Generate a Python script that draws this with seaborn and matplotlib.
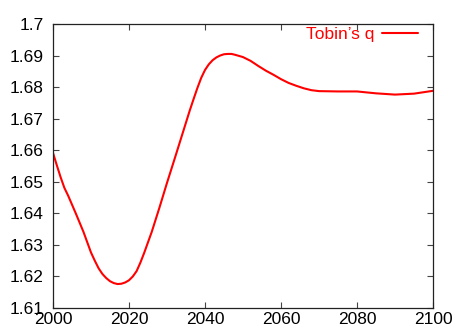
import matplotlib
matplotlib.use("Agg")
import matplotlib.pyplot as plt
import seaborn as sns
import pandas as pd

# Tobin's q path, 2000-2100
years = [2000, 2001, 2002, 2003, 2004, 2006, 2008, 2010, 2011, 2012,
         2013, 2014, 2015, 2016, 2017, 2018, 2019, 2020, 2021, 2022,
         2023, 2024, 2026, 2028, 2030, 2032, 2034, 2036, 2037, 2038,
         2039, 2040, 2041, 2042, 2043, 2044, 2045, 2046, 2047, 2048,
         2050, 2052, 2054, 2056, 2058, 2060, 2062, 2064, 2066, 2068,
         2070, 2075, 2080, 2085, 2090, 2095, 2100]
tobins_q = [1.6592, 1.6553, 1.6515, 1.6481, 1.6456, 1.6400, 1.6342, 1.6276, 1.6250, 1.6226,
            1.6208, 1.6195, 1.6185, 1.6179, 1.6176, 1.6177, 1.6181, 1.6188, 1.6200, 1.6217,
            1.6244, 1.6275, 1.6342, 1.6418, 1.6497, 1.6573, 1.6650, 1.6727, 1.6763, 1.6798,
            1.6830, 1.6855, 1.6873, 1.6886, 1.6895, 1.6901, 1.6905, 1.6906, 1.6906, 1.6903,
            1.6896, 1.6884, 1.6868, 1.6853, 1.6840, 1.6826, 1.6814, 1.6805, 1.6797, 1.6791,
            1.6788, 1.6787, 1.6787, 1.6781, 1.6777, 1.6780, 1.6789]
series_name = "Tobin\u2019s q"

x_ticks = [2000, 2020, 2040, 2060, 2080, 2100]
x_tick_labels = ["2000", "2020", "2040", "2060", "2080", "2100"]
y_ticks = [1.61, 1.62, 1.63, 1.64, 1.65, 1.66, 1.67, 1.68, 1.69, 1.70]
y_tick_labels = ["1.61", "1.62", "1.63", "1.64", "1.65", "1.66", "1.67", "1.68", "1.69", "1.7"]

sns.set_theme(style="ticks")
plt.rcParams["font.family"] = ["Liberation Sans", "DejaVu Sans"]

df = pd.DataFrame({"year": years, "q": tobins_q, "series": series_name})

fig = plt.figure(figsize=(4.54, 3.27), dpi=100)
ax = fig.add_axes([53 / 454, 19 / 327, 380 / 454, 283.7 / 327])

sns.lineplot(data=df, x="year", y="q", hue="series", palette=["#ff0000"],
             linewidth=1.5, ax=ax)

ax.set_xlim(2000, 2100)
ax.set_ylim(1.61, 1.70)
ax.set_xticks(x_ticks)
ax.set_xticklabels(x_tick_labels)
ax.set_yticks(y_ticks)
ax.set_yticklabels(y_tick_labels)
ax.set_xlabel("")
ax.set_ylabel("")

for side in ["left", "right", "top", "bottom"]:
    ax.spines[side].set_visible(True)
    ax.spines[side].set_color("#222222")
    ax.spines[side].set_linewidth(0.9)

ax.tick_params(axis="both", which="major", direction="in", length=4.5, width=0.8,
               color="#444444", labelsize=12.5, labelcolor="black",
               top=True, right=True)
ax.tick_params(axis="y", pad=6.5)
ax.tick_params(axis="x", pad=3)

leg = ax.legend(loc="upper right", bbox_to_anchor=(0.96, 0.99), frameon=False,
                markerfirst=False, handlelength=2.07, handletextpad=0.44,
                borderaxespad=0.0, borderpad=0.0, fontsize=12.5,
                labelcolor="#ff0000")
for line in leg.get_lines():
    line.set_linewidth(1.5)

fig.savefig("out.png", dpi=100)
